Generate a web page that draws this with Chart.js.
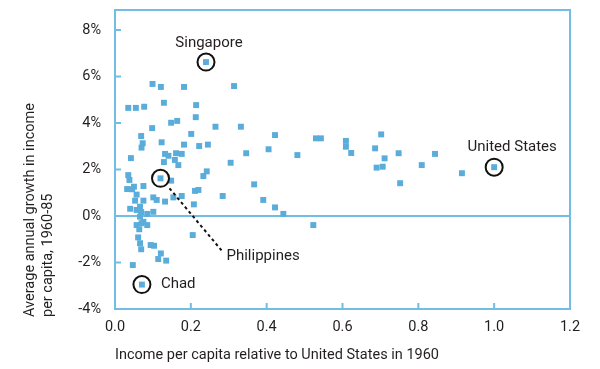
<!DOCTYPE html>
<html>
<head>
<meta charset="utf-8">
<script src="https://cdn.jsdelivr.net/npm/chart.js@4.4.0/dist/chart.umd.min.js"></script>
<style>
  html, body { margin:0; padding:0; background:#fff; }
  #wrap { width:600px; height:369px; }
</style>
</head>
<body>
<div id="wrap"><canvas id="myChart" width="600" height="369"></canvas></div>
<script>
// income per capita relative to US in 1960 (x) and average annual growth 1960-85 in % (y)
const xVals = [
  0.24, 1.0, 0.071, 0.12,
  0.099, 0.121, 0.182, 0.314, 0.035, 0.055, 0.077, 0.129, 0.214, 0.213,
  0.265, 0.332, 0.148, 0.164, 0.098, 0.069, 0.073, 0.070, 0.123, 0.201,
  0.182, 0.222, 0.245, 0.042, 0.132, 0.141, 0.161, 0.176, 0.158, 0.129,
  0.167, 0.242, 0.233, 0.148, 0.035, 0.038, 0.032, 0.045, 0.050, 0.075,
  0.057, 0.053, 0.075, 0.066, 0.040, 0.057, 0.069, 0.085, 0.101, 0.066,
  0.101, 0.110, 0.132, 0.154, 0.176, 0.211, 0.220, 0.208,
  0.422, 0.530, 0.543, 0.346, 0.405, 0.481, 0.305, 0.367, 0.284, 0.391,
  0.422, 0.444, 0.523, 0.702, 0.609, 0.609, 0.623, 0.686, 0.711, 0.690,
  0.706, 0.748, 0.752, 0.809, 0.844, 0.915,
  0.057, 0.070, 0.085, 0.075, 0.064, 0.061, 0.066, 0.069, 0.094, 0.103,
  0.121, 0.114, 0.135, 0.047, 0.205
];
const yVals = [
  6.62, 2.1, -2.95, 1.62,
  5.68, 5.55, 5.55, 5.59, 4.65, 4.65, 4.70, 4.87, 4.77, 4.25,
  3.84, 3.84, 4.01, 4.09, 3.78, 3.44, 3.13, 2.94, 3.17, 3.53,
  3.07, 3.01, 3.07, 2.49, 2.67, 2.59, 2.70, 2.67, 2.41, 2.32,
  2.19, 1.92, 1.72, 1.52, 1.76, 1.55, 1.16, 1.15, 1.26, 1.29,
  0.92, 0.66, 0.66, 0.40, 0.31, 0.26, 0.17, 0.09, 0.18, -0.03,
  0.80, 0.69, 0.62, 0.80, 0.86, 1.08, 1.12, 0.50,
  3.48, 3.34, 3.34, 2.70, 2.87, 2.62, 2.29, 1.36, 0.86, 0.69,
  0.37, 0.09, -0.39, 3.51, 3.23, 2.98, 2.71, 2.91, 2.48, 2.08,
  2.12, 2.70, 1.41, 2.19, 2.67, 1.84,
  -0.39, -0.31, -0.39, -0.25, -0.57, -0.92, -1.17, -1.43, -1.25, -1.28,
  -1.61, -1.85, -1.92, -2.11, -0.82
];
const xTicks = [0, 0.2, 0.4, 0.6, 0.8, 1.0, 1.2];
const yTicks = [-4, -2, 0, 2, 4, 6, 8];

// circled countries (index into xVals / yVals)
const labelNames = ['Singapore', 'United States', 'Chad', 'Philippines'];
const labelIdx = [0, 1, 2, 3];

const xTitle = 'Income per capita relative to United States in 1960';
const yTitle = ['Average annual growth in income', 'per capita, 1960-85'];

const blue = '#5aaddb';
const lineBlue = '#72bde6';
const textCol = '#231f20';
const fontFam = 'Roboto, "Noto Sans", sans-serif';

let points = xVals.map((x, i) => ({x: x, y: yVals[i]}));

const decor = {
  id: 'decor',
  beforeDatasetsDraw(chart) {
    let ctx = chart.ctx, a = chart.chartArea;
    let xs = chart.scales.x, ys = chart.scales.y;
    ctx.save();
    ctx.strokeStyle = lineBlue;
    ctx.lineWidth = 2;
    ctx.strokeRect(a.left, a.top, a.right - a.left, a.bottom - a.top);
    let y0 = ys.getPixelForValue(0);
    ctx.beginPath();
    ctx.moveTo(a.left, y0); ctx.lineTo(a.right, y0);
    ctx.stroke();
    // inner tick marks
    ctx.beginPath();
    xTicks.forEach(v => {
      let px = xs.getPixelForValue(v);
      ctx.moveTo(px, a.bottom); ctx.lineTo(px, a.bottom - 6);
    });
    yTicks.forEach(v => {
      let py = ys.getPixelForValue(v);
      ctx.moveTo(a.left, py); ctx.lineTo(a.left + 6, py);
    });
    ctx.stroke();
    ctx.restore();
  },
  afterDraw(chart) {
    let ctx = chart.ctx, a = chart.chartArea;
    let xs = chart.scales.x, ys = chart.scales.y;
    ctx.save();
    ctx.fillStyle = textCol;
    ctx.font = '14.5px ' + fontFam;

    // axis titles
    ctx.textAlign = 'left';
    ctx.textBaseline = 'middle';
    ctx.fillText(xTitle, a.left, 355);
    ctx.save();
    ctx.translate(30, 317);
    ctx.rotate(-Math.PI / 2);
    ctx.fillText(yTitle[0], 0, 0);
    ctx.fillText(yTitle[1], 0, 18);
    ctx.restore();

    // circles + labels
    ctx.strokeStyle = '#111';
    ctx.lineWidth = 2;
    let pos = labelIdx.map(i => [xs.getPixelForValue(xVals[i]), ys.getPixelForValue(yVals[i])]);
    pos.forEach(p => {
      ctx.beginPath();
      ctx.arc(p[0], p[1], 8.5, 0, Math.PI * 2);
      ctx.stroke();
    });
    ctx.font = '15px ' + fontFam;
    ctx.textAlign = 'center';
    ctx.fillText(labelNames[0], pos[0][0] + 3, pos[0][1] - 19);
    ctx.fillText(labelNames[1], pos[1][0] + 18, pos[1][1] - 20);
    ctx.textAlign = 'left';
    ctx.fillText(labelNames[2], pos[2][0] + 19, pos[2][1]);
    ctx.fillText(labelNames[3], pos[3][0] + 66, pos[3][1] + 78);
    // leader line to Philippines
    ctx.setLineDash([3, 3]);
    ctx.beginPath();
    ctx.moveTo(pos[3][0] + 9, pos[3][1] + 10);
    ctx.lineTo(pos[3][0] + 61, pos[3][1] + 72);
    ctx.stroke();
    ctx.restore();
  }
};

let ctx = document.getElementById('myChart').getContext('2d');
let chart = new Chart(ctx, {
  type: 'scatter',
  data: {
    datasets: [{
      data: points,
      pointStyle: 'rect',
      pointRadius: 4.2,
      pointBorderWidth: 0,
      backgroundColor: blue,
      borderColor: blue
    }]
  },
  options: {
    responsive: false,
    animation: false,
    layout: { padding: { top: 10, right: 30, left: 0, bottom: 0 } },
    plugins: { legend: { display: false }, tooltip: { enabled: false } },
    scales: {
      x: {
        type: 'linear',
        min: 0, max: 1.2,
        afterBuildTicks: s => { s.ticks = xTicks.map(v => ({value: v})); },
        afterFit: s => { s.height = 60; s.paddingLeft = 0; s.paddingRight = 0; },
        ticks: { callback: v => v.toFixed(1), color: textCol, padding: 10, font: { family: fontFam, size: 14.5 } },
        grid: { display: false, drawTicks: false },
        border: { display: false }
      },
      y: {
        type: 'linear',
        min: -4, max: 8.86,
        afterBuildTicks: s => { s.ticks = yTicks.map(v => ({value: v})); },
        afterFit: s => { s.width = 115; s.paddingTop = 0; s.paddingBottom = 0; },
        ticks: { callback: v => v + '%', color: textCol, padding: 14, font: { family: fontFam, size: 14.5 } },
        grid: { display: false, drawTicks: false },
        border: { display: false }
      }
    }
  },
  plugins: [decor]
});
</script>
</body>
</html>
